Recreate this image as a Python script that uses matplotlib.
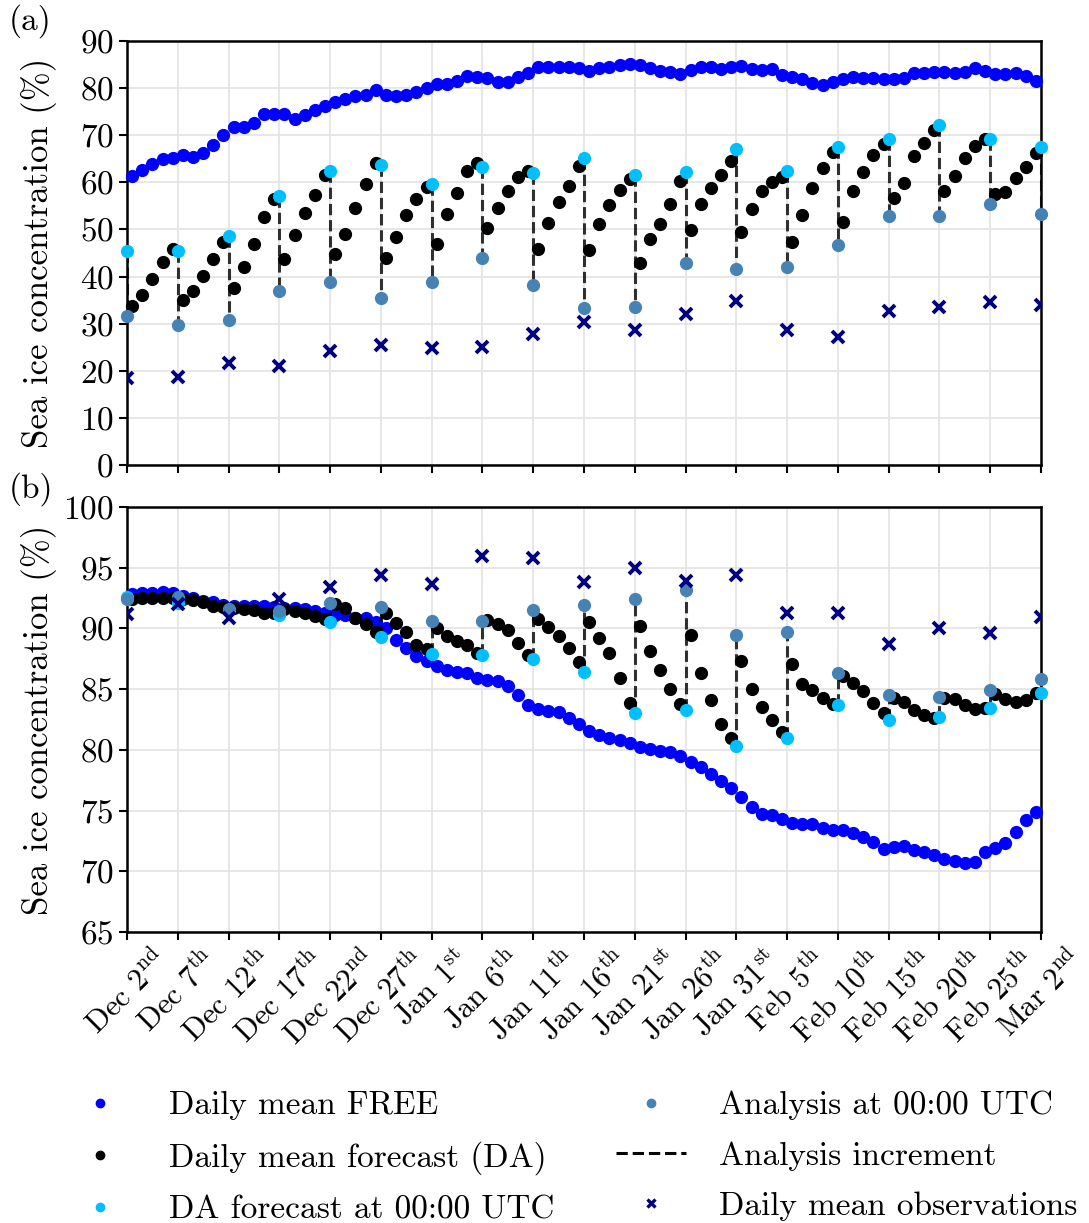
import numpy as np
import matplotlib
matplotlib.use("Agg")
import matplotlib.pyplot as plt
from matplotlib.lines import Line2D

plt.rcParams['font.family'] = 'serif'
plt.rcParams['font.serif'] = ['cmr10']
plt.rcParams['mathtext.fontset'] = 'cm'
plt.rcParams['axes.formatter.use_mathtext'] = True
plt.rcParams['axes.unicode_minus'] = False

# days since Dec 2nd; daily means sit at mid-day, analyses at 00:00 every 5 days
mean_days = np.arange(90) + 0.5
an_days = np.arange(0, 91, 5)

tick_labels = ["Dec 2$^{\\mathrm{nd}}$", "Dec 7$^{\\mathrm{th}}$", "Dec 12$^{\\mathrm{th}}$",
               "Dec 17$^{\\mathrm{th}}$", "Dec 22$^{\\mathrm{nd}}$", "Dec 27$^{\\mathrm{th}}$",
               "Jan 1$^{\\mathrm{st}}$", "Jan 6$^{\\mathrm{th}}$", "Jan 11$^{\\mathrm{th}}$",
               "Jan 16$^{\\mathrm{th}}$", "Jan 21$^{\\mathrm{st}}$", "Jan 26$^{\\mathrm{th}}$",
               "Jan 31$^{\\mathrm{st}}$", "Feb 5$^{\\mathrm{th}}$", "Feb 10$^{\\mathrm{th}}$",
               "Feb 15$^{\\mathrm{th}}$", "Feb 20$^{\\mathrm{th}}$", "Feb 25$^{\\mathrm{th}}$",
               "Mar 2$^{\\mathrm{nd}}$"]

# ---- panel (a)
free_a = [61.4, 62.6, 63.8, 64.9, 65.2, 65.7, 65.3, 66.2, 67.9, 70.0, 71.7, 71.8, 72.5, 74.5, 74.6, 74.4,
          73.4, 74.3, 75.4, 76.2, 77.0, 77.6, 78.3, 78.5, 79.5, 78.6, 78.3, 78.5, 79.2, 80.0, 80.9, 80.8,
          81.6, 82.6, 82.4, 82.1, 81.2, 81.2, 82.4, 83.3, 84.5, 84.4, 84.5, 84.4, 84.3, 83.6, 84.2, 84.5,
          84.9, 85.1, 84.8, 84.2, 83.7, 83.5, 82.9, 83.8, 84.4, 84.4, 84.1, 84.4, 84.7,
          84.0, 83.8, 84.1, 82.8, 82.4, 81.9, 81.0, 80.7, 81.2, 81.9, 82.4, 82.1, 82.1, 81.9, 82.0, 82.1,
          83.3, 83.3, 83.4, 83.5, 83.1, 83.5, 84.2, 83.6, 82.9, 83.0, 83.3, 82.6, 81.6]
da_a = [33.7, 36.1, 39.5, 43.0, 45.8, 35.0, 37.0, 40.2, 43.7, 47.4, 37.5, 42.0, 46.8, 52.6, 56.4, 43.8,
        48.8, 53.4, 57.3, 61.6, 44.8, 49.0, 54.5, 59.6, 64.0, 44.0, 48.4, 53.1, 56.4, 59.1, 46.8, 53.2,
        57.7, 62.4, 64.0, 50.2, 54.5, 58.2, 61.2, 62.4, 45.8, 51.4, 55.8, 59.3, 63.5, 45.6, 51.1, 55.2,
        58.4, 60.7, 42.8, 48.0, 51.1, 55.4, 60.3, 49.9, 55.4, 58.7, 61.6, 64.6, 49.5,
        54.3, 58.2, 60.0, 61.2, 47.3, 53.1, 58.7, 63.1, 66.4, 51.6, 58.1, 62.1, 65.7, 68.1, 56.6, 59.9,
        65.6, 68.3, 71.0, 58.2, 61.4, 65.1, 67.8, 69.2, 57.5, 57.9, 61.0, 63.3, 66.2]
fc00_a = [45.4, 45.5, 48.5, 57.2, 62.4, 63.7, 59.6, 63.2, 61.9, 65.2, 61.6, 62.1, 67.0, 62.3, 67.4,
          69.1, 72.1, 69.1, 67.4]
an_a = [31.7, 29.8, 30.8, 36.9, 38.8, 35.4, 38.8, 43.9, 38.2, 33.4, 33.6, 42.8, 41.7, 42.0, 46.7,
        52.9, 52.9, 55.5, 53.2]
obs_a = [18.5, 18.7, 21.6, 21.1, 24.2, 25.5, 24.8, 25.1, 27.7, 30.3, 28.7, 32.0, 34.8, 28.7, 27.1,
         32.7, 33.6, 34.5, 34.0]

# ---- panel (b)
free_b = [92.84, 92.9, 92.92, 92.97, 92.9, 92.7, 92.5, 92.3, 92.15, 91.9, 91.87, 91.87, 91.87, 91.85, 91.8,
          91.7, 91.7, 91.6, 91.46, 91.3, 91.1, 91.1, 90.9, 90.85, 90.5, 90.08, 89.07, 88.4, 87.75, 87.3,
          86.9, 86.57,
          86.45, 86.3, 85.95, 85.76, 85.65, 85.26, 84.5, 83.66, 83.4, 83.2, 83.15, 82.6, 82.1, 81.55,
          81.2, 81.0, 80.8, 80.6, 80.25, 80.1, 79.95, 79.8, 79.5, 79.0, 78.6, 78.0, 77.4, 76.9, 76.1, 75.3,
          74.74, 74.65, 74.3, 73.97, 73.9, 73.9, 73.6, 73.4, 73.4, 73.14, 72.86, 72.45, 71.85, 72.04,
          72.1, 71.76, 71.6, 71.35, 71.0, 70.85, 70.66, 70.8, 71.6, 71.9, 72.3, 73.2, 74.2, 74.9]
da_b = [92.42, 92.48, 92.5, 92.5, 92.5, 92.4, 92.34, 92.15, 91.87, 91.8, 91.7, 91.6, 91.5, 91.3, 91.27,
        91.6, 91.46, 91.3, 91.0, 90.77, 92.0, 91.7, 90.9, 90.36, 89.67, 91.24, 90.44, 89.67, 88.65, 88.3,
        90.08, 89.4,
        89.0, 88.6, 88.0, 90.7, 90.36, 89.9, 88.84, 87.8, 90.8, 90.1, 89.4, 88.4, 87.25, 90.5, 89.2,
        88.0, 85.95, 83.9, 90.2, 88.15, 86.56, 85.0, 83.75, 89.45, 86.3, 84.1, 82.15, 81.0, 87.3, 85.0,
        83.5, 82.5, 81.5, 87.05, 85.45, 84.9, 84.3, 83.8, 86.1, 85.5, 84.85, 83.83, 83.06, 84.3, 83.94,
        83.28, 82.84, 82.64, 84.3, 84.2, 83.7, 83.33, 83.47, 84.6, 84.16, 83.94, 84.1, 84.65]
fc00_b = [92.6, 92.1, 91.5, 91.1, 90.5, 89.3, 87.9, 87.8, 87.47, 86.45, 83.0, 83.25, 80.3, 80.94,
          83.7, 82.5, 82.7, 83.47, 84.65]
an_b = [92.4, 92.6, 91.6, 91.45, 92.06, 91.73, 90.6, 90.6, 91.5, 91.96, 92.4, 93.2, 89.5, 89.67,
        86.3, 84.5, 84.35, 84.9, 85.8]
obs_b = [91.2, 92.0, 90.85, 92.4, 93.4, 94.4, 93.65, 96.0, 95.8, 93.8, 95.0, 93.9, 94.4, 91.3, 91.24,
         88.7, 90.08, 89.6, 90.96]

FS = 24
MS = 8.5


def panel(ax, free, da, fc00, an, obs):
    ax.grid(True, color='#e3e3e3', lw=1.2, zorder=0)
    ax.plot(mean_days, free, 'o', color='blue', ms=MS, clip_on=False, zorder=3)
    ax.plot(mean_days, da, 'o', color='black', ms=MS, clip_on=False, zorder=3)
    ax.vlines(an_days, fc00, an, colors='black', linestyles='--', lw=2.2, alpha=0.8, zorder=3.5)
    ax.plot(an_days, fc00, 'o', color='deepskyblue', ms=MS, clip_on=False, zorder=4)
    ax.plot(an_days, an, 'o', color='steelblue', ms=MS, clip_on=False, zorder=4)
    ax.plot(an_days, obs, 'x', color='navy', ms=8, mew=2.8, zorder=4)
    ax.set_xlim(0, 90)
    ax.set_xticks(an_days)
    ax.set_ylabel("Sea ice concentration (%)", fontsize=FS + 1)
    ax.tick_params(axis='both', labelsize=FS, width=1.5, length=6)
    for s in ax.spines.values():
        s.set_linewidth(1.8)


fig = plt.figure(figsize=(10.89, 12.23), dpi=100)
ax1 = fig.add_axes([0.1166, 0.6198, 0.8393, 0.3467])
ax2 = fig.add_axes([0.1166, 0.2379, 0.8393, 0.3475])

panel(ax1, free_a, da_a, fc00_a, an_a, obs_a)
ax1.set_ylim(0, 90)
ax1.set_yticks(range(0, 91, 10))
ax1.set_xticklabels([])

panel(ax2, free_b, da_b, fc00_b, an_b, obs_b)
ax2.set_ylim(65, 100)
ax2.set_yticks(range(65, 101, 5))
ax2.set_xticklabels(tick_labels, rotation=45, ha='center', fontsize=FS - 2)

for ax in (ax1, ax2):
    ax.yaxis.set_label_coords(-0.077, 0.5)

fig.text(0.008, 0.997, "(a)", fontsize=FS, va='top')
fig.text(0.008, 0.614, "(b)", fontsize=FS, va='top')

handles = [
    Line2D([], [], ls='none', marker='o', color='blue', ms=6),
    Line2D([], [], ls='none', marker='o', color='black', ms=6),
    Line2D([], [], ls='none', marker='o', color='deepskyblue', ms=6),
    Line2D([], [], ls='none', marker='o', color='steelblue', ms=6),
    Line2D([], [], ls='--', color='black', lw=2.2),
    Line2D([], [], ls='none', marker='x', color='navy', ms=6, mew=2.4),
]
labels = ["Daily mean FREE", "Daily mean forecast (DA)", "DA forecast at 00:00 UTC",
          "Analysis at 00:00 UTC", "Analysis increment", "Daily mean observations"]
fig.legend(handles, labels, ncol=2, loc='upper left', bbox_to_anchor=(0.06, 0.108),
           frameon=False, fontsize=FS, handlelength=2.1, handletextpad=1.0,
           columnspacing=1.85, labelspacing=0.62, borderpad=0, borderaxespad=0)

fig.savefig("out.png", dpi=100)
